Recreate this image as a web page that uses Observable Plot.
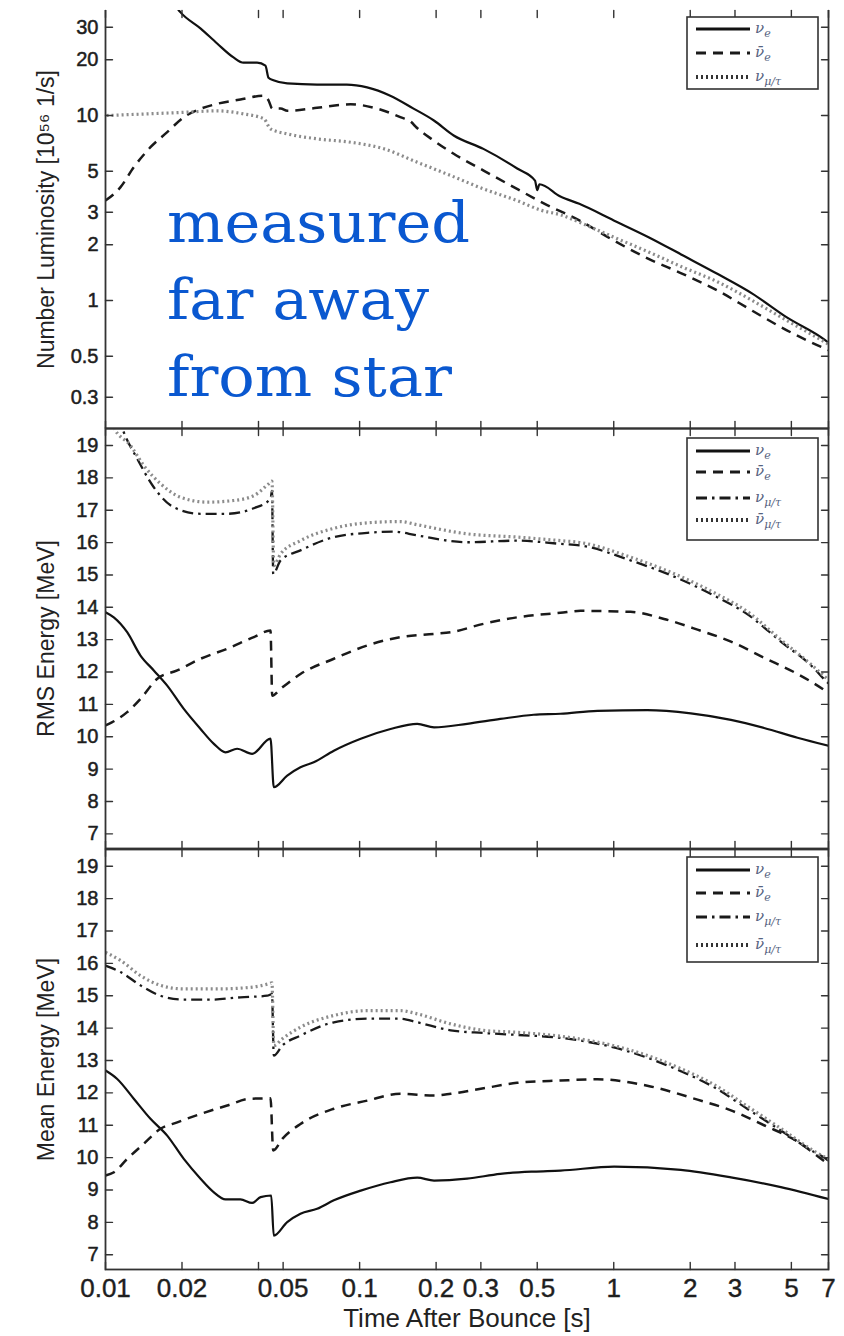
<!DOCTYPE html>
<html><head><meta charset="utf-8">
<script src="https://cdn.jsdelivr.net/npm/d3@7"></script>
<script src="https://cdn.jsdelivr.net/npm/@observablehq/plot@0.6"></script>
<style>
html,body{margin:0;padding:0;background:#fff;}
#wrap{position:relative;width:844px;height:1336px;overflow:hidden;background:#fff;}
#wrap svg{display:block;}
#overlay{position:absolute;left:0;top:0;pointer-events:none;}
</style></head>
<body><div id="wrap"></div>
<script>
// ---------- tick labels ----------
const xTicks = [0.01, 0.02, 0.04, 0.05, 0.1, 0.2, 0.3, 0.5, 1, 2, 3, 5, 7];
const xTickLabels = [0.01, 0.02, 0.05, 0.1, 0.2, 0.3, 0.5, 1, 2, 3, 5, 7];
const lumTicks = [0.3, 0.5, 1, 2, 3, 5, 10, 20, 30];
const energyTicks = [7, 8, 9, 10, 11, 12, 13, 14, 15, 16, 17, 18, 19];
const legendLabels3 = ["νe", "ν̄e", "νμ/τ"];
const legendLabels4 = ["νe", "ν̄e", "νμ/τ", "ν̄μ/τ"];

// ---------- Panel 1: number luminosity [10^56 1/s] ----------
const lumNuE = [[0.0190,38.5],[0.0197,36.2],[0.0237,29.5],[0.0275,24.5],[0.0319,20.6],[0.0349,19.3],[0.0395,19.3],[0.0426,18.6],[0.0438,16.0],[0.0458,15.5],[0.0519,14.9],[0.068,14.7],[0.089,14.7],[0.107,14.2],[0.132,12.8],[0.163,10.9],[0.196,9.4],[0.2345,7.8],[0.307,6.6],[0.417,5.17],[0.49,4.45],[0.50,3.95],[0.51,4.25],[0.617,3.65],[0.732,3.33],[1.0,2.71],[1.371,2.2],[1.876,1.75],[2.567,1.39],[3.51,1.09],[4.80,0.81],[6.79,0.61],[7,0.59]];
const lumNuEbar = [[0.01,3.47],[0.01146,4.1],[0.01292,5.25],[0.01503,6.74],[0.01749,8.13],[0.02033,9.79],[0.02366,10.87],[0.02753,11.57],[0.03396,12.2],[0.042,12.8],[0.0439,12.0],[0.0453,10.9],[0.0489,10.9],[0.0519,10.6],[0.068,11.0],[0.0922,11.5],[0.1172,10.9],[0.1446,9.8],[0.160,9.2],[0.165,8.8],[0.1963,7.3],[0.2345,6.21],[0.3075,5.04],[0.4163,4.01],[0.535,3.33],[0.732,2.71],[1.0,2.11],[1.371,1.68],[1.876,1.39],[2.567,1.13],[3.51,0.88],[4.80,0.69],[6.58,0.56],[7,0.54]];
const lumNuMu = [[0.0101,10.0],[0.0203,10.4],[0.0275,10.6],[0.0349,10.2],[0.0420,9.6],[0.0446,8.47],[0.0519,7.96],[0.068,7.48],[0.0922,7.17],[0.1245,6.61],[0.1686,5.59],[0.228,4.74],[0.3075,4.01],[0.416,3.47],[0.52,3.07],[0.62,2.9],[0.732,2.65],[1.0,2.2],[1.371,1.83],[1.876,1.51],[2.567,1.26],[3.51,1.0],[4.80,0.78],[6.58,0.61],[7,0.58]];

// ---------- Panel 2: RMS energy [MeV] ----------
const rmsNuE = [[0.01,13.85],[0.01078,13.69],[0.01217,13.23],[0.01373,12.51],[0.01549,12.05],[0.01749,11.58],[0.02033,10.86],[0.02366,10.24],[0.0267,9.78],[0.02967,9.52],[0.03295,9.63],[0.03776,9.47],[0.0446,9.94],[0.04595,8.44],[0.05189,8.80],[0.0585,9.06],[0.06597,9.21],[0.07917,9.57],[0.101,9.94],[0.1323,10.24],[0.1686,10.40],[0.1963,10.29],[0.2648,10.40],[0.3577,10.55],[0.4842,10.68],[0.6171,10.71],[0.8627,10.80],[1.355,10.82],[2.01,10.72],[2.892,10.52],[3.904,10.27],[5.285,9.97],[7,9.72]];
const rmsNuEbar = [[0.01,10.35],[0.01063,10.45],[0.01217,10.76],[0.01373,11.17],[0.01598,11.79],[0.01916,12.05],[0.02366,12.41],[0.03013,12.72],[0.03833,13.08],[0.0446,13.28],[0.04529,11.27],[0.04888,11.48],[0.0585,11.94],[0.07917,12.41],[0.1071,12.82],[0.1446,13.08],[0.1963,13.18],[0.2282,13.23],[0.3075,13.49],[0.4163,13.69],[0.6171,13.83],[0.7405,13.89],[1.164,13.86],[1.577,13.64],[2.136,13.31],[2.892,12.94],[3.904,12.44],[5.285,11.94],[6.745,11.44],[7,11.35]];
const rmsNuMu = [[0.0112,19.9],[0.0118,19.41],[0.01333,18.59],[0.01549,17.71],[0.01858,17.09],[0.02366,16.89],[0.03013,16.89],[0.03833,17.06],[0.0446,17.35],[0.0452,17.6],[0.0457,15.03],[0.04888,15.45],[0.0585,15.76],[0.07917,16.17],[0.1071,16.30],[0.1363,16.34],[0.1686,16.22],[0.2648,16.01],[0.4163,16.06],[0.6171,15.96],[0.7405,15.91],[1.164,15.45],[1.835,14.86],[2.487,14.36],[3.363,13.78],[4.544,12.94],[6.15,12.11],[6.745,11.77],[7,11.65]];
const rmsNuMubar = [[0.0102,20.3],[0.01078,19.57],[0.01254,19.0],[0.01415,18.38],[0.01646,17.82],[0.01973,17.40],[0.02513,17.25],[0.03196,17.30],[0.03833,17.45],[0.04392,17.82],[0.0452,17.9],[0.04595,15.29],[0.04888,15.65],[0.0585,16.06],[0.07917,16.44],[0.1071,16.61],[0.1446,16.65],[0.1686,16.55],[0.2648,16.27],[0.4163,16.17],[0.6171,16.06],[0.7405,16.0],[1.164,15.55],[1.835,14.95],[2.487,14.45],[3.363,13.86],[4.544,13.0],[6.15,12.15],[7,11.75]];

// ---------- Panel 3: mean energy [MeV] ----------
const meanNuE = [[0.01,12.69],[0.01112,12.43],[0.01292,11.82],[0.01503,11.20],[0.01749,10.68],[0.02033,9.96],[0.02366,9.35],[0.0267,8.93],[0.02967,8.71],[0.03396,8.71],[0.03776,8.60],[0.04076,8.78],[0.04488,8.83],[0.04595,7.59],[0.05189,8.01],[0.0585,8.27],[0.06804,8.42],[0.07917,8.68],[0.101,8.98],[0.1323,9.24],[0.1686,9.38],[0.1963,9.29],[0.2648,9.35],[0.3577,9.50],[0.4842,9.57],[0.6171,9.60],[1.003,9.72],[1.835,9.62],[2.892,9.39],[4.544,9.09],[7,8.72]];
const meanNuEbar = [[0.01,9.45],[0.0108,9.55],[0.01217,9.96],[0.01415,10.43],[0.01646,10.89],[0.01916,11.09],[0.02366,11.35],[0.03013,11.61],[0.0372,11.82],[0.0446,11.83],[0.0457,10.22],[0.04963,10.58],[0.0585,11.04],[0.07917,11.51],[0.1071,11.76],[0.1446,11.97],[0.1963,11.92],[0.2282,11.97],[0.3075,12.14],[0.4163,12.31],[0.6171,12.38],[0.8627,12.42],[1.355,12.22],[2.136,11.79],[2.892,11.46],[3.904,11.0],[5.285,10.50],[6.745,9.89],[7,9.8]];
const meanNuMu = [[0.01,15.93],[0.01146,15.73],[0.01373,15.32],[0.01646,15.0],[0.02033,14.88],[0.02591,14.88],[0.03396,14.95],[0.04329,15.0],[0.0452,15.05],[0.04595,13.15],[0.04963,13.46],[0.0585,13.77],[0.07917,14.18],[0.1071,14.29],[0.1446,14.29],[0.1686,14.18],[0.2282,13.93],[0.3075,13.85],[0.4163,13.79],[0.6171,13.7],[1.164,13.26],[1.835,12.67],[2.487,12.17],[3.363,11.50],[4.544,10.84],[6.15,10.17],[6.745,10.0],[7,9.9]];
const meanNuMubar = [[0.01,16.34],[0.01146,16.09],[0.01373,15.62],[0.01646,15.32],[0.02033,15.21],[0.02753,15.21],[0.0372,15.26],[0.04392,15.37],[0.0452,15.4],[0.04595,13.46],[0.04963,13.67],[0.0585,14.03],[0.07917,14.39],[0.1071,14.54],[0.1446,14.54],[0.1686,14.44],[0.2282,14.13],[0.3075,13.93],[0.4163,13.87],[0.6171,13.75],[1.164,13.32],[1.835,12.75],[2.487,12.25],[3.363,11.58],[4.544,10.9],[6.15,10.2],[7,9.95]];

// ---------- styles ----------
const FONT = "'Liberation Sans', Arial, Helvetica, sans-serif";
const FRAME = "#333";
const styles = {
  solid:   {stroke: "#111", strokeWidth: 2.2, strokeDasharray: null},
  dashed:  {stroke: "#1a1a1a", strokeWidth: 2.5, strokeDasharray: "10,7"},
  dashdot: {stroke: "#1a1a1a", strokeWidth: 2.3, strokeDasharray: "11,5,2.5,5"},
  dotted:  {stroke: "#8c8c8c", strokeWidth: 3.2, strokeDasharray: "2,3"}
};
const W = 844, ML = 105, MR = 16;
const xDomain = [0.01, 7];
const tickShape = {draw(context, l) { context.moveTo(0, 0); context.lineTo(0, -l); }};

function panel({height, mt, mb, yScale, ticks, label, series, bottomLabels, openTop}) {
  const marks = [];
  for (const s of series) {
    const st = styles[s.style];
    marks.push(Plot.line(s.data, {x: d => d[0], y: d => d[1], curve: "monotone-x", clip: true,
      stroke: st.stroke, strokeWidth: st.strokeWidth, strokeLinecap: "butt",
      strokeDasharray: st.strokeDasharray || undefined}));
  }
  if (openTop) {
    marks.push(Plot.ruleX(xDomain, {stroke: FRAME, strokeWidth: 1.8}));
    marks.push(Plot.ruleY([yScale.domain[0]], {stroke: FRAME, strokeWidth: 1.8}));
  } else {
    marks.push(Plot.frame({stroke: FRAME, strokeWidth: 1.8}));
  }
  // inward ticks on all four sides
  const tk = {length: 7, anchor: "start", shape: tickShape, stroke: FRAME, strokeWidth: 1.4};
  marks.push(Plot.vector(xTicks, {x: d => d, frameAnchor: "top", rotate: 180, ...tk}));
  marks.push(Plot.vector(xTicks, {x: d => d, frameAnchor: "bottom", rotate: 0, ...tk}));
  marks.push(Plot.vector(ticks, {y: d => d, frameAnchor: "left", rotate: 90, ...tk}));
  marks.push(Plot.vector(ticks, {y: d => d, frameAnchor: "right", rotate: -90, ...tk}));
  // y tick labels
  marks.push(Plot.text(ticks, {y: d => d, text: d => String(d), frameAnchor: "left", dx: -7,
    textAnchor: "end", lineAnchor: "middle", fontSize: 20, fill: "#1e1e1e",
    stroke: "#1e1e1e", strokeWidth: 0.5, ariaLabel: "ytick-labels"}));
  // y title
  marks.push(Plot.text([label], {text: d => d, frameAnchor: "left", rotate: -90, dx: -59,
    fontSize: 23, fill: "#222", textAnchor: "middle", lineAnchor: "middle"}));
  if (bottomLabels) {
    marks.push(Plot.text(xTickLabels, {x: d => d, text: d => String(d), frameAnchor: "bottom", dy: 9,
      lineAnchor: "top", textAnchor: "middle", fontSize: 26, fill: "#1e1e1e", stroke: "#1e1e1e", strokeWidth: 0.4}));
    marks.push(Plot.text(["Time After Bounce [s]"], {text: d => d, frameAnchor: "bottom", dy: 49,
      fontSize: 26, fill: "#222", textAnchor: "middle", lineAnchor: "middle"}));
  }
  const svg = Plot.plot({
    width: W, height, marginLeft: ML, marginRight: MR, marginTop: mt, marginBottom: mb,
    style: {fontFamily: FONT, background: "transparent", overflow: "visible"},
    x: {type: "log", domain: xDomain, axis: null},
    y: {...yScale, axis: null},
    marks
  });
  // widen y tick labels horizontally (the reference glyphs are wide)
  const g = svg.querySelector('g[aria-label="ytick-labels"]');
  if (g) {
    const x0 = ML - 7;
    const old = g.getAttribute("transform") || "";
    g.setAttribute("transform", `translate(${x0},0) scale(1.3,1) translate(${-x0},0) ${old}`);
  }
  return svg;
}

const wrap = document.getElementById("wrap");
wrap.appendChild(panel({
  height: 428, mt: 10, mb: 0, openTop: true,
  yScale: {type: "log", domain: [0.2033, 36.95]},
  ticks: lumTicks, label: "Number Luminosity [10⁵⁶ 1/s]",
  series: [{data: lumNuE, style: "solid"}, {data: lumNuEbar, style: "dashed"}, {data: lumNuMu, style: "dotted"}]
}));
wrap.appendChild(panel({
  height: 420, mt: 0, mb: 0,
  yScale: {type: "linear", domain: [6.547, 19.525]},
  ticks: energyTicks, label: "RMS Energy [MeV]",
  series: [{data: rmsNuE, style: "solid"}, {data: rmsNuEbar, style: "dashed"}, {data: rmsNuMu, style: "dashdot"}, {data: rmsNuMubar, style: "dotted"}]
}));
wrap.appendChild(panel({
  height: 488, mt: 1, mb: 67, bottomLabels: true,
  yScale: {type: "linear", domain: [6.545, 19.516]},
  ticks: energyTicks, label: "Mean Energy [MeV]",
  series: [{data: meanNuE, style: "solid"}, {data: meanNuEbar, style: "dashed"}, {data: meanNuMu, style: "dashdot"}, {data: meanNuMubar, style: "dotted"}]
}));

// ---------- overlay: legends and annotation ----------
const ov = d3.select(wrap).append("svg").attr("id", "overlay").attr("width", 844).attr("height", 1336);
function legend(x0, y0, w, h, rows, labels, kinds) {
  const g = ov.append("g");
  g.append("rect").attr("x", x0).attr("y", y0).attr("width", w).attr("height", h)
    .attr("fill", "#fff").attr("stroke", FRAME).attr("stroke-width", 1.6);
  rows.forEach((ry, i) => {
    const st = styles[kinds[i]];
    g.append("line").attr("x1", x0 + 9).attr("x2", x0 + 63).attr("y1", ry).attr("y2", ry)
      .attr("stroke", kinds[i] === "dotted" ? "#333" : st.stroke).attr("stroke-width", st.strokeWidth + 0.6)
      .attr("stroke-dasharray", st.strokeDasharray);
    const lab = labels[i];
    const bar = lab.includes("\u0304");
    const base = bar ? "ν\u0304" : "ν";
    const sub = lab.slice(bar ? 2 : 1);
    const t = g.append("text").attr("x", x0 + 68).attr("y", ry + 4)
      .attr("font-family", "'DejaVu Serif', serif").attr("font-style", "italic")
      .attr("font-size", 15).attr("fill", "#56637f");
    t.append("tspan").text(base);
    t.append("tspan").attr("font-size", 11).attr("dy", 4).text(sub);
  });
}
legend(687, 17, 131, 72, [29, 53, 77], legendLabels3, ["solid", "dashed", "dotted"]);
legend(687, 438, 131, 102, [451, 472, 498, 520], legendLabels4, ["solid", "dashed", "dashdot", "dotted"]);
legend(687, 857, 131, 105, [870, 893, 917, 945], legendLabels4, ["solid", "dashed", "dashdot", "dotted"]);

const note = ["measured", "far away", "from star"];
const noteWidths = [303, 262, 285];
ov.append("g").selectAll("text").data(note).join("text")
  .attr("x", 167).attr("y", (d, i) => 242 + i * 77)
  .attr("font-family", "'DejaVu Serif', serif").attr("font-size", 56)
  .attr("textLength", (d, i) => noteWidths[i]).attr("lengthAdjust", "spacingAndGlyphs")
  .attr("fill", "#0a58d0").text(d => d);
</script>
</body></html>
